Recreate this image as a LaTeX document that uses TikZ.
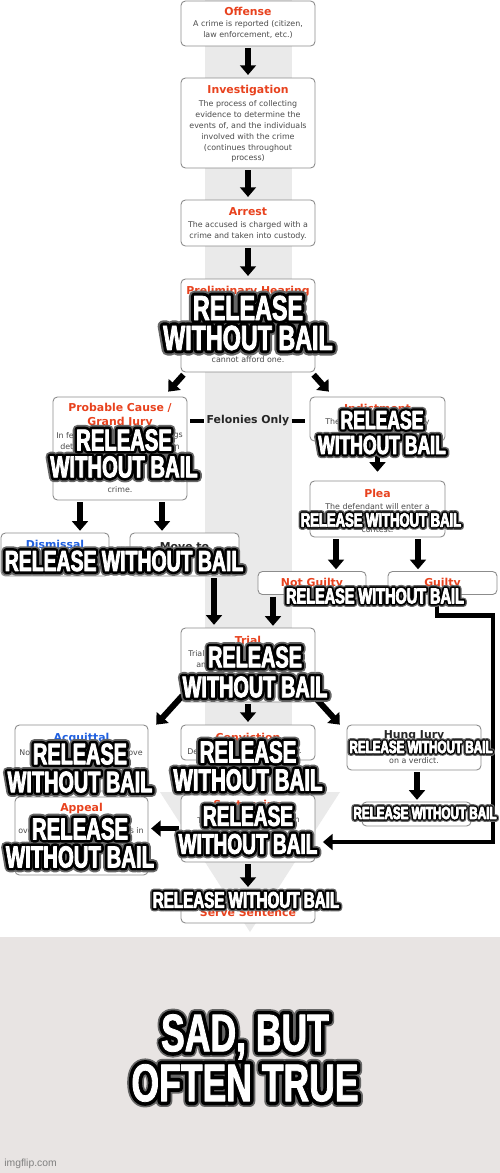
\documentclass[tikz,border=0pt]{standalone}
\usepackage{fontspec}
\usetikzlibrary{arrows.meta,positioning,calc}
\newfontfamily\chartfont{DejaVu Sans}
\newfontfamily\impactfont{Liberation Sans}[FakeStretch=0.67]
\newfontfamily\wmfont{Liberation Sans}
\definecolor{ttlred}{HTML}{E8421E}
\definecolor{ttlblue}{HTML}{2060E0}
\definecolor{memebg}{HTML}{E8E4E3}
\definecolor{stripe}{HTML}{EAEAEA}
\tikzset{
  box/.style={draw=black!45, rounded corners=2.5pt, fill=white, line width=0.5pt, minimum width=26.8mm, inner sep=0pt},
  ttl/.style={font=\chartfont\bfseries\fontsize{6.2}{8.5}\selectfont, text=ttlred, inner sep=0pt, align=center},
  ttlb/.style={ttl, text=ttlblue},
  ttlk/.style={ttl, text=black!85},
  txt/.style={font=\chartfont\fontsize{4.5}{6.2}\selectfont, text=black!70, align=center, inner sep=0pt},
  down/.style={-{Triangle[length=5.5pt,width=9pt]}, line width=3.4pt, shorten <=1pt, shorten >=1.5pt},
  bar/.style={line width=2.4pt},
  meme/.style={align=center, inner sep=0pt},
}
% outlined glyphs: render mode and stroke width
\newcommand{\strokeon}[2]{\special{pdf:literal direct #1 Tr #2 w 1 j}}
\newcommand{\strokeoff}{\special{pdf:literal direct 0 Tr}}
% white caption with a dark glow
\newcommand{\memelabel}[5]{%
  \pgfmathsetmacro\glowout{min(#3*0.32,6.5)}
  \pgfmathsetmacro\glowin{min(#3*0.2,4.6)}
  \node[meme, font={\impactfont\bfseries\fontsize{#3}{#4}\selectfont}, text=black!60] at (#2) {\strokeon{1}{\glowout}#5\strokeoff};
  \node[meme, font={\impactfont\bfseries\fontsize{#3}{#4}\selectfont}, text=black] at (#2) {\strokeon{1}{\glowin}#5\strokeoff};
  \node[meme, font={\impactfont\bfseries\fontsize{#3}{#4}\selectfont}, text=white] (#1) at (#2) {\strokeon{2}{0.45}#5\strokeoff};
}

\begin{document}
\begin{tikzpicture}[x=0.02cm, y=-0.02cm]
  \useasboundingbox (0,0) rectangle (500,1173);
  \fill[white] (0,0) rectangle (500,937);
  \fill[memebg] (0,937) rectangle (500,1173);
  % big background arrow
  \fill[stripe] (205,0) rectangle (292,792);
  \fill[stripe] (160,792) -- (340,792) -- (250,932) -- cycle;

  % boxes
  \node[box, minimum height=9mm] (offense) at (248,23.5) {};
  \node[ttl] (offenseT) at (248,11) {Offense};
  \node[txt] (offenseB) at (248,29.5) {A crime is reported (citizen,\\law enforcement, etc.)};

  \node[box, minimum height=18mm] (invest) at (248,123) {};
  \node[ttl] (investT) at (248,91) {Investigation};
  \node[txt] (investB) at (248,131.5) {The process of collecting\\evidence to determine the\\events of, and the individuals\\involved with the crime\\(continues throughout\\process)};

  \node[box, minimum height=9.2mm] (arrest) at (248,223) {};
  \node[ttl] (arrestT) at (248,212) {Arrest};
  \node[txt] (arrestB) at (248,230.5) {The accused is charged with a\\crime and taken into custody.};

  \node[box, minimum height=18.6mm] (prelim) at (248,325.5) {};
  \node[ttl] (prelimT) at (248,292) {Preliminary Hearing};
  \node[txt] (prelimB) at (248,360) {cannot afford one.};

  \node[box, minimum height=20.6mm] (probable) at (120,448.5) {};
  \node[ttl] (probableT) at (120,415.5) {Probable Cause /\\Grand Jury};
  \node[txt, anchor=west] (probableB1) at (56,436) {In fel};
  \node[txt, anchor=east] (probableB2) at (183,436) {ngs};
  \node[txt, anchor=west] (probableB3) at (60,447) {deter};
  \node[txt, anchor=east] (probableB4) at (180,447) {en};
  \node[txt] (probableB5) at (120,490) {crime.};

  \node[ttlk] (felon) at (248,421) {Felonies Only};

  \node[box, minimum width=27mm, minimum height=8.8mm] (indict) at (377.5,419) {};
  \node[ttl] (indictT) at (377.5,408) {Indictment};
  \node[txt, anchor=west] (indictB1) at (325,422) {The};
  \node[txt, anchor=east] (indictB2) at (430,422) {ly};

  \node[box, minimum width=27mm, minimum height=11.2mm] (plea) at (377.5,509) {};
  \node[ttl] (pleaT) at (377.5,493) {Plea};
  \node[txt] (pleaB1) at (377.5,507) {The defendant will enter a};
  \node[txt] (pleaB2) at (377.5,530) {contest.};

  \node[box, minimum width=21.6mm, minimum height=8.6mm] (dismiss) at (55,554.5) {};
  \node[ttlb] (dismissT) at (55,544) {Dismissal};
  \node[box, minimum width=21.8mm, minimum height=8.6mm] (moveto) at (184.5,554.5) {};
  \node[ttlk] (movetoT) at (184.5,547) {Move to};

  \node[box, minimum width=21.6mm, minimum height=4.6mm] (notg) at (312,583) {};
  \node[ttl] (notgT) at (312,584) {Not Guilty};
  \node[box, minimum width=21.8mm, minimum height=4.6mm] (guilty) at (442.5,583) {};
  \node[ttl] (guiltyT) at (442.5,584) {Guilty};

  \node[box, minimum height=14.8mm] (trial) at (248,665) {};
  \node[ttl] (trialT) at (248,640) {Trial};
  \node[txt, anchor=west] (trialB1) at (188,654) {Trial b};
  \node[txt, anchor=east] (trialB2) at (300,654) {ge};
  \node[txt, anchor=west] (trialB3) at (196,665) {and/};
  \node[txt, anchor=east] (trialB4) at (299,665) {s};

  \node[box, minimum width=26.6mm, minimum height=13.2mm] (acquit) at (81.5,758) {};
  \node[ttlb] (acquitT) at (81.5,738) {Acquittal};
  \node[txt, anchor=west] (acquitB1) at (19,753) {Not};
  \node[txt, anchor=east] (acquitB2) at (143,753) {rove};

  \node[box, minimum height=7mm] (conviction) at (248,742.5) {};
  \node[ttl] (convictionT) at (248,737) {Conviction};
  \node[txt, anchor=west] (convictionB1) at (187,752) {De};
  \node[txt, anchor=east] (convictionB2) at (302,752) {y.};

  \node[box, minimum height=9mm] (hung) at (414,747.5) {};
  \node[ttlk] (hungT) at (414,736) {Hung Jury};
  \node[txt] (hungB) at (414,761) {on a verdict.};

  \node[box, minimum width=21.8mm, minimum height=4.8mm] (retrial) at (416.5,814) {};

  \node[box, minimum height=13.4mm] (sentencing) at (248,828.5) {};
  \node[ttl] (sentencingT) at (248,806) {Sentencing};
  \node[txt, anchor=west] (sentencingB1) at (197,820) {Th};
  \node[txt, anchor=east] (sentencingB2) at (300,820) {n};

  \node[box, minimum width=26.6mm, minimum height=15.6mm] (appeal) at (81.5,836) {};
  \node[ttl] (appealT) at (81.5,808) {Appeal};
  \node[txt, anchor=west] (appealB1) at (18,831) {over};
  \node[txt, anchor=east] (appealB2) at (144,831) {rs in};

  \node[box, minimum height=6.6mm] (serve) at (248,906.5) {};
  \node[ttl] (serveT) at (248,913) {Serve Sentence};

  % connectors
  \draw[down] (offense) -- (invest);
  \draw[down] (invest) -- (arrest);
  \draw[down] (arrest) -- (prelim);
  \draw[down] ($(prelim.south west)+(4,1)$) -- ($(probable.north east)+(-21,-3)$);
  \draw[down] ($(prelim.south east)+(-3,1)$) -- ($(indict.north west)+(21,-3)$);
  \draw[bar, shorten <=0.6mm, shorten >=0.4mm] (probable.east |- felon) -- (felon.west);
  \draw[bar, shorten <=0.4mm, shorten >=1mm] (felon.east) -- (indict.west |- felon);
  \draw[down, shorten >=5pt] (indict) -- (plea);
  \draw[down] ($(probable.south)+(-40,0)$) -- ++(0,33);
  \draw[down] ($(probable.south)+(42,0)$) -- ++(0,33);
  \draw[down] ($(plea.south)+(-41.5,0)$) -- ++(0,34.5);
  \draw[down] ($(plea.south)+(40.5,0)$) -- ++(0,34.5);
  \draw[down] ($(moveto.south)+(29.5,0)$) -- ++(0,51);
  \draw[down] ($(notg.south)+(-39,0)$) -- ++(0,33.5);
  \draw[down] ($(trial.south west)+(3,-8)$) -- ($(acquit.north east)+(6,2)$);
  \draw[down] ($(trial.south east)+(-3,-8)$) -- ($(hung.north west)+(-5,2)$);
  \draw[down] (trial) -- (conviction);
  \draw[down] (conviction) -- (sentencing);
  \draw[down] ($(hung.south)+(3,0)$) -- ++(0,32);
  \draw[down] (sentencing.west) -- (sentencing.west -| appeal.east);
  \draw[down] (sentencing) -- (serve);
  \coordinate (gcorner) at (493,842);
  \draw[-{Triangle[length=5.5pt,width=9pt]}, line width=2.8pt, shorten >=1.5mm]
    ($(guilty.south)+(-5.5,0)$) -- ++(0,21) -| (gcorner) -- (gcorner -| sentencing.east);

  % captions
  \memelabel{rwbPrelim}{248,323}{19.8}{17}{RELEASE\\WITHOUT BAIL}
  \memelabel{rwbIndict}{382,432.5}{14.9}{14.2}{RELEASE\\WITHOUT BAIL}
  \memelabel{rwbProbable}{124,453.5}{17.2}{15.3}{RELEASE\\WITHOUT BAIL}
  \memelabel{rwbPlea}{381,520}{11.1}{12}{RELEASE WITHOUT BAIL}
  \memelabel{rwbDismiss}{124,561}{16.5}{18}{RELEASE WITHOUT BAIL}
  \memelabel{rwbGuilty}{375,596}{12.3}{13}{RELEASE WITHOUT BAIL}
  \memelabel{rwbTrial}{255,672}{16.9}{17}{RELEASE\\WITHOUT BAIL}
  \memelabel{rwbAcquit}{80,768}{16.9}{15.9}{RELEASE\\WITHOUT BAIL}
  \memelabel{rwbConviction}{248,766}{17.4}{15.9}{RELEASE\\WITHOUT BAIL}
  \memelabel{rwbHung}{421,747}{9.9}{11}{RELEASE WITHOUT BAIL}
  \memelabel{rwbRetrial}{425,813}{9.9}{11}{RELEASE WITHOUT BAIL}
  \memelabel{rwbSentencing}{248,830}{16.2}{15.9}{RELEASE\\WITHOUT BAIL}
  \memelabel{rwbAppeal}{80,843}{17.3}{15.9}{RELEASE\\WITHOUT BAIL}
  \memelabel{rwbServe}{246,900}{12.9}{14}{RELEASE WITHOUT BAIL}
  \memelabel{sadTrue}{245,1058}{30.2}{28.4}{SAD, BUT\\OFTEN TRUE}

  \node[font=\wmfont\fontsize{5.9}{7}\selectfont, text=black!50, anchor=west, inner sep=0pt] (wm) at (4,1164) {imgflip.com};
\end{tikzpicture}
\end{document}
